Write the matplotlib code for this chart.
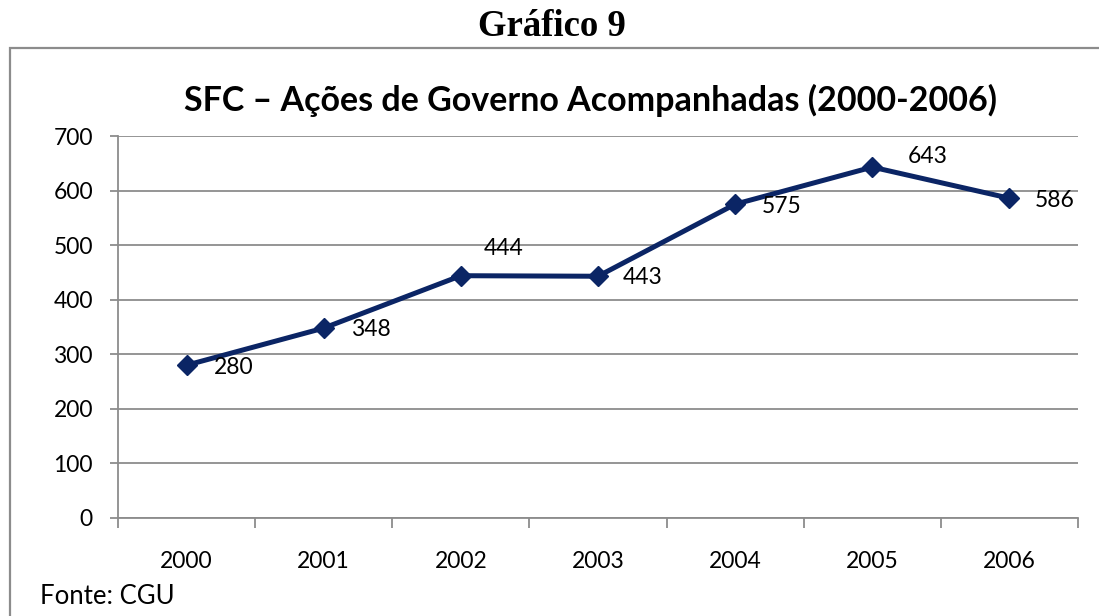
import matplotlib
matplotlib.use("Agg")
import matplotlib.pyplot as plt
from matplotlib.patches import Rectangle

years = ["2000", "2001", "2002", "2003", "2004", "2005", "2006"]
values = [280, 348, 444, 443, 575, 643, 586]
yticks = [0, 100, 200, 300, 400, 500, 600, 700]

# label offsets (pixels) relative to each point
label_dx = [27, 27, 23, 25, 27, 35, 25]
label_dy = [-2, -1, 27, -1, -2, 11, -2]

W, H = 1099, 616
fig = plt.figure(figsize=(W / 100, H / 100), dpi=100)
plt.rcParams['font.family'] = ['Lato', 'DejaVu Sans']

# outer border
fig.patches.append(Rectangle((10 / W, -0.1), 1.2, 1 - 48 / H + 0.1, transform=fig.transFigure,
                             fill=False, edgecolor='#8c8c8c', linewidth=1.6))

ax = fig.add_axes([118 / W, 1 - 518 / H, (1078 - 118) / W, (518 - 136) / H])
x = list(range(len(years)))
color = '#0b2565'
ax.plot(x, values, color=color, linewidth=3.6, marker='D', markersize=10.5, zorder=3)

ax.set_xlim(-0.5, len(years) - 0.5)
ax.set_ylim(0, 700)
ax.set_yticks(yticks)
ax.set_yticklabels([str(v) for v in yticks], fontsize=16.5)
ax.set_xticks(x)
ax.set_xticklabels(years, fontsize=16.5)
ax.set_xticks([i - 0.5 for i in range(len(years) + 1)], minor=True)
ax.tick_params(axis='x', which='major', length=0, pad=24)
ax.tick_params(axis='x', which='minor', length=7, color='#8c8c8c', width=1.3)
ax.tick_params(axis='y', length=6, color='#8c8c8c', width=1.3, pad=12)
ax.grid(axis='y', color='#8c8c8c', linewidth=1.3)
ax.set_axisbelow(True)
for s in ['top', 'right']:
    ax.spines[s].set_visible(False)
for s in ['left', 'bottom']:
    ax.spines[s].set_color('#8c8c8c')
    ax.spines[s].set_linewidth(1.3)

for xi, v, dx, dy in zip(x, values, label_dx, label_dy):
    ax.annotate(str(v), (xi, v), xytext=(dx, dy), textcoords='offset pixels',
                ha='left', va='center', fontsize=16.5)

fig.text(590 / W, 1 - 100 / H, "SFC – Ações de Governo Acompanhadas (2000-2006)",
         ha='center', va='center', fontsize=24.5, fontweight='bold')
fig.text(552 / W, 1 - 27 / H, "Gráfico 9", ha='center', va='center', fontsize=26.5,
         fontweight='bold', family='Liberation Serif')
fig.text(40 / W, 1 - 597 / H, "Fonte: CGU", ha='left', va='center', fontsize=18.5)

fig.savefig("out.png", dpi=100)
